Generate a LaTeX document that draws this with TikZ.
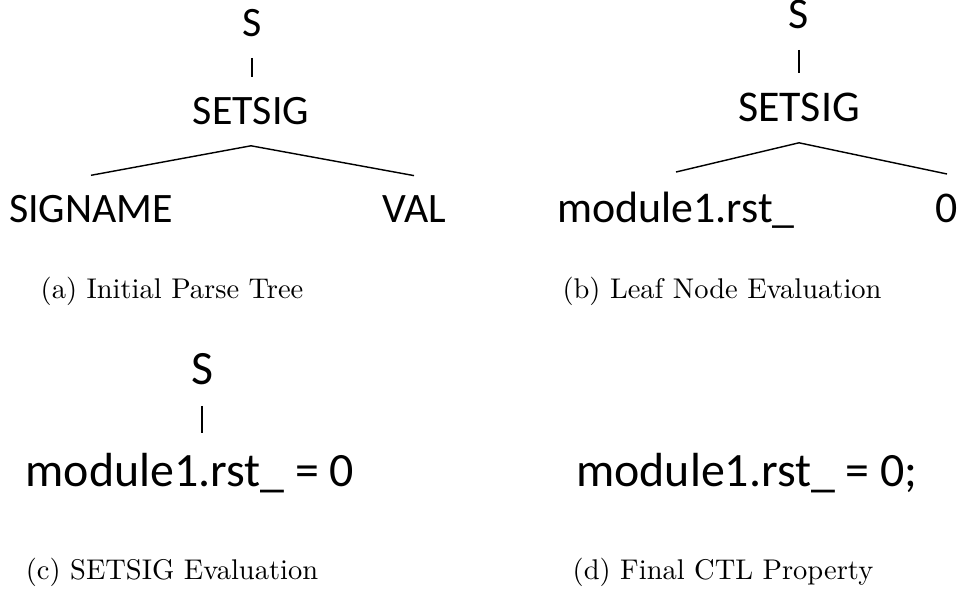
\documentclass[tikz,border=0pt]{standalone}
\usepackage{fontspec}
\newfontfamily\treefont{Carlito}

\tikzstyle{tree-node}=[inner sep=0pt, outer xsep=0pt, outer ysep=7.2pt, anchor=base]
\tikzstyle{tree-a}=[tree-node, font=\treefont\fontsize{14.7}{17}\selectfont]
\tikzstyle{tree-b}=[tree-node, font=\treefont\fontsize{15.4}{18}\selectfont]
\tikzstyle{tree-c}=[tree-node, font=\treefont\fontsize{16.8}{20}\selectfont]
\tikzstyle{sub-caption}=[inner sep=0pt, anchor=base]
\tikzstyle{tree-edge}=[line width=0.5pt]
\definecolor{TreeInk}{HTML}{000000}

\begin{document}
\begin{tikzpicture}[x=0.351pt, y=-0.351pt, color=TreeInk]
      \useasboundingbox (0,0) rectangle (960,592);

      % (a) initial parse tree
      \node (a-s) at (252, 37) [tree-a] {S};
      \node (a-setsig) at (251, 125) [tree-a] {SETSIG};
      \node (a-signame) at (91, 223) [tree-a] {SIGNAME};
      \node (a-val) at (414, 223) [tree-a] {VAL};
      \draw [tree-edge] (a-s.south) -- (a-s.south |- a-setsig.north);
      \draw [tree-edge] (a-setsig.south) -- (a-signame.north);
      \draw [tree-edge] (a-setsig.south) -- (a-val.north);
      \node (a-caption) at (172, 299) [sub-caption] {(a) Initial Parse Tree};

      % (b) leaf node evaluation
      \node (b-s) at (799, 29) [tree-b] {S};
      \node (b-setsig) at (799, 122) [tree-b] {SETSIG};
      \node (b-signal) at (676, 223) [tree-b] {module1.rst\_};
      \node (b-value) at (947, 223) [tree-b] {0};
      \draw [tree-edge] (b-s.south) -- (b-s.south |- b-setsig.north);
      \draw [tree-edge] (b-setsig.south) -- (b-signal.north);
      \draw [tree-edge] (b-setsig.south) -- (b-value.north);
      \node (b-caption) at (722, 299) [sub-caption] {(b) Leaf Node Evaluation};

      % (c) setsig evaluation
      \node (c-s) at (202, 385) [tree-c] {S};
      \node (c-assign) at (190, 487) [tree-c] {module1.rst\_ = 0};
      \draw [tree-edge] (c-s.south) -- (c-s.south |- c-assign.north);
      \node (c-caption) at (172, 580) [sub-caption] {(c) SETSIG Evaluation};

      % (d) final property
      \node (d-property) at (747, 487) [tree-c] {module1.rst\_ = 0;};
      \node (d-caption) at (723, 580) [sub-caption] {(d) Final CTL Property};
\end{tikzpicture}
\end{document}
